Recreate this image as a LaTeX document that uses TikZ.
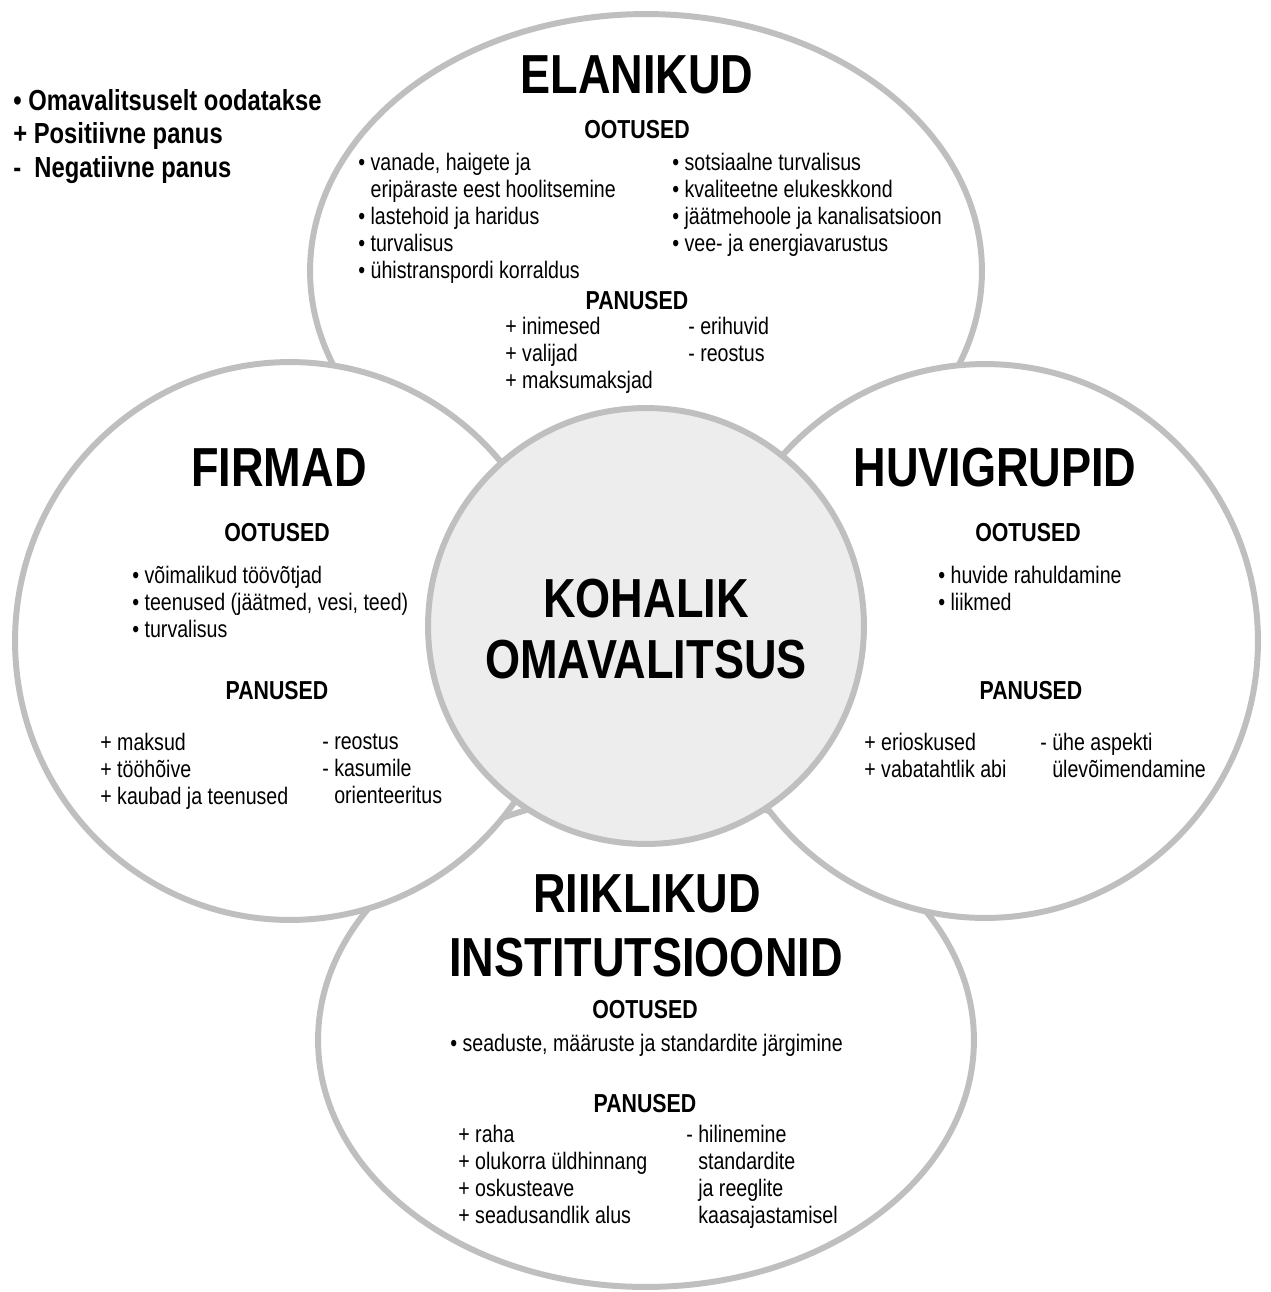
\documentclass[tikz,border=0pt]{standalone}
\usepackage{fontspec}
\setmainfont{Liberation Sans}[FakeStretch=0.82]
\usetikzlibrary{shapes.geometric}
\definecolor{ringgray}{HTML}{BFBFBF}
\definecolor{hubfill}{HTML}{EDEDED}
\tikzset{
    blob/.style = {ellipse, draw = ringgray, line width = 3.4pt, fill = white, inner sep = 0pt},
    grouptitle/.style = {font = \fontsize{31.3}{36}\selectfont\bfseries, anchor = base, inner sep = 0pt},
    sectionhead/.style = {font = \fontsize{14.8}{17}\selectfont\bfseries, anchor = base, inner sep = 0pt},
    itemlist/.style = {font = \fontsize{13.6}{15.4}\selectfont, align = left, anchor = north west, inner sep = 0pt},
    legendlist/.style = {font = \fontsize{16.5}{19.1}\selectfont\bfseries, align = left, anchor = north west, inner sep = 0pt}
}
\begin{document}
\begin{tikzpicture}[x = 0.02cm, y = -0.02cm]

        \useasboundingbox (0, 0) rectangle (1271, 1292);

        \node [blob, minimum width = 13.44cm, minimum height = 10.28cm] (elanikud) at (646, 271) {};
        \node [blob, minimum width = 13.12cm, minimum height = 9.88cm] (riiklikud) at (646, 1040) {};
        \node [blob, minimum width = 11cm, minimum height = 11.16cm] (firmad) at (290, 641) {};
        \node [blob, minimum width = 10.92cm, minimum height = 11.08cm] (huvigrupid) at (985, 641) {};
        \node [blob, circle, fill = hubfill, minimum size = 8.72cm] (kov) at (646, 626) {};

        \node [legendlist] (legend) at (13, 89) {• Omavalitsuselt oodatakse\\+ Positiivne panus\\-\ \ Negatiivne panus};

        \node [grouptitle] (elanikudT) at (637, 93) {ELANIKUD};
        \node [sectionhead] (elanikudO) at (637, 138) {OOTUSED};
        \node [itemlist] (elanikudO1) at (358, 153) {• vanade, haigete ja\\\hphantom{• }eripäraste eest hoolitsemine\\• lastehoid ja haridus\\• turvalisus\\• ühistranspordi korraldus};
        \node [itemlist] (elanikudO2) at (672, 153) {• sotsiaalne turvalisus\\• kvaliteetne elukeskkond\\• jäätmehoole ja kanalisatsioon\\• vee- ja energiavarustus};
        \node [sectionhead] (elanikudP) at (637, 309) {PANUSED};
        \node [itemlist] (elanikudP1) at (505, 317) {+ inimesed\\+ valijad\\+ maksumaksjad};
        \node [itemlist] (elanikudP2) at (688, 317) {- erihuvid\\- reostus};

        \node [grouptitle] (firmadT) at (279, 486) {FIRMAD};
        \node [sectionhead] (firmadO) at (277, 541) {OOTUSED};
        \node [itemlist] (firmadO1) at (132, 566) {• võimalikud töövõtjad\\• teenused (jäätmed, vesi, teed)\\• turvalisus};
        \node [sectionhead] (firmadP) at (277, 699) {PANUSED};
        \node [itemlist] (firmadP1) at (100, 733) {+ maksud\\+ tööhõive\\+ kaubad ja teenused};
        \node [itemlist] (firmadP2) at (322, 734) {- reostus\\- kasumile\\\hphantom{- }orienteeritus};

        \node [grouptitle] (huvigrupidT) at (995, 486) {HUVIGRUPID};
        \node [sectionhead] (huvigrupidO) at (1028, 541) {OOTUSED};
        \node [itemlist] (huvigrupidO1) at (938, 566) {• huvide rahuldamine\\• liikmed};
        \node [sectionhead] (huvigrupidP) at (1031, 699) {PANUSED};
        \node [itemlist] (huvigrupidP1) at (864, 733) {+ erioskused\\+ vabatahtlik abi};
        \node [itemlist] (huvigrupidP2) at (1040, 733) {- ühe aspekti\\\hphantom{- }ülevõimendamine};

        \node [grouptitle] (kovT1) at (646, 617) {KOHALIK};
        \node [grouptitle] (kovT2) at (646, 678) {OMAVALITSUS};

        \node [grouptitle] (riiklikudT1) at (647, 912) {RIIKLIKUD};
        \node [grouptitle] (riiklikudT2) at (646, 976) {INSTITUTSIOONID};
        \node [sectionhead] (riiklikudO) at (645, 1018) {OOTUSED};
        \node [itemlist] (riiklikudO1) at (450, 1034) {• seaduste, määruste ja standardite järgimine};
        \node [sectionhead] (riiklikudP) at (645, 1112) {PANUSED};
        \node [itemlist] (riiklikudP1) at (458, 1125) {+ raha\\+ olukorra üldhinnang\\+ oskusteave\\+ seadusandlik alus};
        \node [itemlist] (riiklikudP2) at (686, 1125) {- hilinemine\\\hphantom{- }standardite\\\hphantom{- }ja reeglite\\\hphantom{- }kaasajastamisel};

    \end{tikzpicture}
\end{document}
